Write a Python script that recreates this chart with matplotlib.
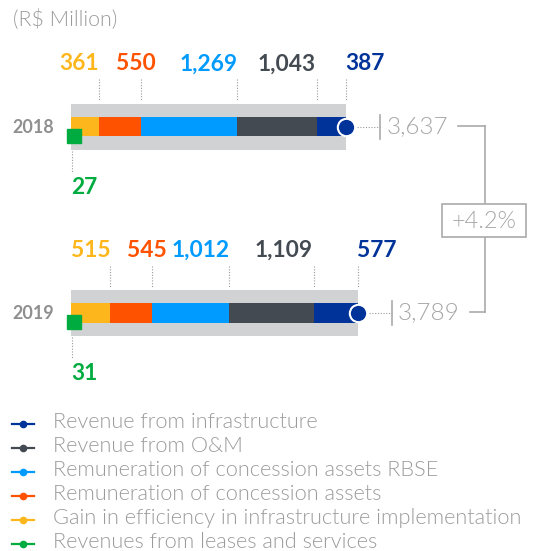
import matplotlib
matplotlib.use('Agg')
import matplotlib.pyplot as plt
from matplotlib.patches import Rectangle
from matplotlib.transforms import ScaledTranslation

plt.rcParams['font.family'] = ['Lato', 'DejaVu Sans']

years = ['2018', '2019']
series = ['Revenue from infrastructure',
          'Revenue from O&M',
          'Remuneration of concession assets RBSE',
          'Remuneration of concession assets',
          'Gain in efficiency in infrastructure implementation',
          'Revenues from leases and services']
# values per year (R$ million)
gain_efficiency = [361, 515]
remun_assets = [550, 545]
remun_rbse = [1269, 1012]
revenue_om = [1043, 1109]
revenue_infra = [387, 577]
leases_services = [27, 31]

colors = {
    'infra': '#003399',
    'om': '#434a52',
    'rbse': '#009bff',
    'assets': '#ff5200',
    'gain': '#fdb71c',
    'leases': '#00ab3f',
}
GRAY_BG = '#d1d2d4'
TXT = '#9b9b9b'
LINE = '#aaaaaa'
DOTS = (0, (1, 1.5))

W, H = 534, 551
fig = plt.figure(figsize=(W / 100, H / 100), dpi=100)
ax = fig.add_axes([0, 0, 1, 1])
ax.set_axis_off()

# x axis in R$ million, y axis in pixel rows from the top
x0_px = 71
k = 0.0763
ax.set_xlim(-x0_px / k, (W - x0_px) / k)
ax.set_ylim(H, 0)


def px2x(p):
    return (p - x0_px) / k


rows = [126.5, 313]
# segment data, label alignment, label nudge in px
stack = [(gain_efficiency, 'gain', 'right', 0),
         (remun_assets, 'assets', 'center', -5),
         (remun_rbse, 'rbse', 'right', 0),
         (revenue_om, 'om', 'right', -1),
         (revenue_infra, 'infra', 'left', -1)]

bracket_x = 485
totals = []
for i, y in enumerate(rows):
    bar_end = sum(s[0][i] for s in stack)
    total = bar_end + leases_services[i]
    totals.append(total)

    ax.barh(y, bar_end, height=46, left=0, color=GRAY_BG, zorder=1)
    left = 0
    for vals, key, ha, dx in stack:
        v = vals[i]
        ax.barh(y, v, height=19.5, left=left, color=colors[key], zorder=2)
        edge = left + v
        ax.plot([edge, edge], [y - 47.5, y - 25.5], color='#999999',
                lw=0.8, ls=DOTS, zorder=1)
        ax.annotate(f'{v:,}', (edge, y - 56), xytext=(dx * 0.72, 0),
                    textcoords='offset points', ha=ha, va='baseline',
                    fontsize=16.4, fontweight='bold', color=colors[key])
        left = edge

    # leases square with its label below
    ax.plot([0], [y + 9], marker='s', ms=9.5, color=colors['leases'],
            ls='none', zorder=4,
            transform=ax.transData + ScaledTranslation(3 / 100, 0, fig.dpi_scale_trans))
    ax.plot([px2x(72.3)] * 2, [y + 24, y + 45], color='#999999', lw=0.8,
            ls=DOTS, zorder=1)
    ax.text(px2x(71), y + 67.5, f'{leases_services[i]:,}', ha='left',
            va='baseline', fontsize=16.4, fontweight='bold',
            color=colors['leases'])

    # end circle, leader and total
    ax.plot([bar_end], [y], marker='o', ms=12.5, color=colors['infra'],
            mec='white', mew=1.5, zorder=5)
    end_px = x0_px + bar_end * k
    tick_px = end_px + 34
    ax.plot([bar_end, px2x(tick_px)], [y, y], color='#999999', lw=0.8,
            ls=DOTS, zorder=1)
    ax.plot([px2x(tick_px)] * 2, [y - 12, y + 12], color=LINE, lw=1.2)
    ax.text(px2x(tick_px + 6), y + 6.5, f'{total:,}', ha='left', va='baseline',
            fontsize=17.5, fontweight=300, color='#a6a6a6')
    ax.plot([px2x(tick_px + 78), px2x(bracket_x)], [y - 1, y - 1],
            color=LINE, lw=1.2)

    ax.text(px2x(54), y + 6.3, years[i], ha='right', va='baseline',
            fontsize=12.9, fontweight='bold', color='#8f8f8f')

# bracket and growth box
ax.plot([px2x(bracket_x)] * 2, [rows[0] - 1, rows[1] - 1], color=LINE,
        lw=1.2, zorder=1)
growth = (totals[1] / totals[0] - 1) * 100
ax.add_patch(Rectangle((px2x(442), 204), 84 / k, 33, facecolor='white',
                       edgecolor=LINE, lw=1.2, zorder=3))
ax.text(px2x(484), 228.3, f'+{growth:.1f}%', ha='center', va='baseline',
        fontsize=17, fontweight=300, color='#a6a6a6', zorder=4)

ax.text(px2x(13), 25, '(R$ Million)', ha='left', va='baseline', fontsize=15.4,
        fontweight=300, color=TXT)

# legend, drawn by hand so the row pitch matches
legend_keys = ['infra', 'om', 'rbse', 'assets', 'gain', 'leases']
for j, (key, name) in enumerate(zip(legend_keys, series)):
    ly = 424 + j * 24
    ax.plot([px2x(12.3), px2x(34.3)], [ly, ly], color=colors[key], lw=1.6)
    ax.plot([px2x(22.7)], [ly], marker='o', ms=4.5, color=colors[key])
    ax.text(px2x(53.3), ly + 4.3, name, ha='left', va='baseline', fontsize=15.7,
            fontweight=300, color=TXT)

fig.savefig('out.png', dpi=100)
